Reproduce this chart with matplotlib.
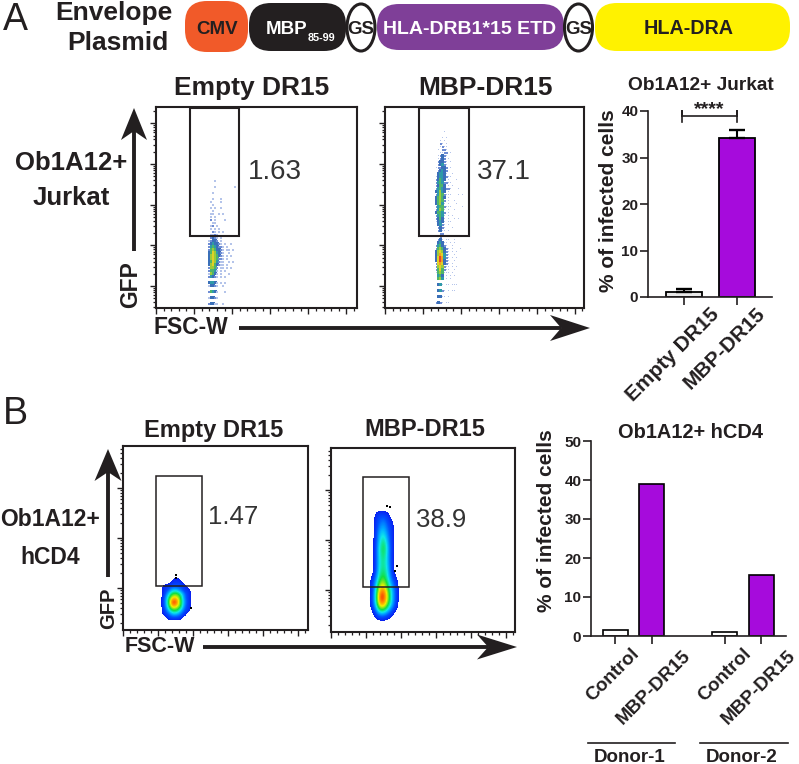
import numpy as np
import matplotlib
matplotlib.use('Agg')
import matplotlib.pyplot as plt
from matplotlib.colors import ListedColormap, LinearSegmentedColormap
from matplotlib.patches import FancyBboxPatch, Ellipse, Polygon, Rectangle
from matplotlib.transforms import ScaledTranslation

plt.rcParams['font.family'] = ['Liberation Sans', 'DejaVu Sans']

W, H = 799, 764
INK = '#231f20'
PURPLE = '#a60bdc'

# --- bar data ---
jurkat_labels = ['Empty DR15', 'MBP-DR15']
jurkat_values = [1.1, 34.2]
jurkat_errors = [0.6, 1.7]
jurkat_ticks = [0, 10, 20, 30, 40]

hcd4_pos = [0, 1, 3, 4]
hcd4_labels = ['Control', 'MBP-DR15', 'Control', 'MBP-DR15']
hcd4_values = [1.5, 38.9, 0.9, 15.7]
hcd4_ticks = [0, 10, 20, 30, 40, 50]

# --- flow gates: x0, x1, y0, y1 (FSC-W in K, GFP in log10) ---
gate_jurkat_empty = [45, 109, 2.23, 5.37]
gate_jurkat_mbp = [45, 110, 2.23, 5.37]
gate_hcd4_empty = [47, 113, 2.04, 4.24]
gate_hcd4_mbp = [46, 111, 2.06, 4.26]

# --- dot plot density, one string per row from the top, digit = density ---
dots_jurkat_empty = [
    "....1..........", "...............", "....1.........1", "...............",
    "...1...........", "...............", "...1...1.......", "..1....1.......",
    "...1...........", "..1.1..1.......", "...1...........", "..11..1.1......",
    "..1.1..........", "..2.1....1.....", "...11..........", "..12.1.........",
    "..1.1.1........", "...21.1.1......", "..1121.........", "..2321.1.......",
    ".12332.1.......", ".2343321.1..1..", ".24543221.1....", ".25653321.11.1.",
    ".35764321..1...", ".36765321.1.1..", ".36765221.1....", ".35764211..1.1.",
    ".36753211.1....", ".26652.11.1.1..", ".25541.1.1.....", ".16531.1...1...",
    ".24321.1.1.....", "...............", ".34431.1.1.....", ".13321..1.......",
    "...............", ".25431...1.....", "...............", ".13321.........",
    "...............", ".23311..1......", "...............",
]
dots_jurkat_mbp = [
    ".....1", "......", "....1.1", "...1.1", "...21.1", "...1211", "..1.221",
    "...1122.1", "..12321", "..1232.1", "..23321.1", "..23421", ".122332.1",
    "..23432", "..34431..1", ".13443211", ".23543.1...1", ".24542211",
    ".23553.1.1", ".24543221...1", ".34643.1", ".24652111...1.1", ".35653.1",
    ".35652.1..1", ".35641.1...1", ".24552111.....1", ".24651.1..1", ".35542.1",
    ".24541.1.1", ".23531.1..1.1", ".13431.11", "..3421.1", "..2321...1",
    "..2311.1", "...22", "...21.1", "..231.11..1", "..34311.1.1", ".245321..1",
    ".2565321.1...1", ".3676321.1.1", ".3687421..1", ".3798421.1.1", ".3798321..1",
    ".2787321.1", ".2676211.1.1", ".2575211..1", ".1565111.1", "..453.1.1.1",
    "..564.1.1", "..............", "..341.11.111", "..............", "..3421.1.11",
    "..............", "..3311.1", "..............", ".2321.11", "..............", "..341",
]

# --- pseudocolor density for hCD4, rows from the top, 0 = no events ---
blob_hcd4_empty = [
    [0, 0, 0, 0, 0, 0, 0, 0, 0],
    [0, 0, 0, 0, 1, 0, 0, 0, 0],
    [0, 0, 0, 1, 1, 1, 0, 0, 0],
    [0, 1, 1, 1.5, 1.5, 1.5, 1, 0, 0],
    [0, 1, 1.5, 3, 3, 2, 1, 1, 0],
    [0, 1, 3, 5, 5.5, 4, 2, 1, 0],
    [0, 1.5, 4, 7, 7, 5, 2, 1, 0],
    [0, 1.5, 4.5, 9, 8.5, 5, 2.5, 1, 0],
    [0, 1.5, 4, 7.5, 7, 5, 2, 1, 0],
    [0, 1, 3, 5, 5, 3.5, 1.5, 1, 0],
    [0, 1, 1.5, 3, 3, 2, 1, 0, 0],
    [0, 0, 1, 1.2, 1.2, 1, 0, 0, 0],
    [0, 0, 0, 0, 0, 0, 0, 0, 0],
]
blob_hcd4_mbp = [
    [0, 0, 0, 0, 0, 0, 0, 0, 0],
    [0, 0, 1, 1.5, 1.5, 1, 0, 0, 0],
    [0, 0, 1, 2, 2.5, 1.5, 1, 0, 0],
    [0, 0, 1.2, 3, 3.2, 2, 1, 0, 0],
    [0, 0, 1.3, 3.5, 4.3, 2.5, 1, 0, 0],
    [0, 0, 1.5, 4, 5, 3, 1, 0, 0],
    [0, 0, 1.5, 3.8, 4.5, 2.8, 1, 0, 0],
    [0, 0, 1.5, 3.8, 4.2, 3, 1, 0, 0],
    [0, 0, 1.6, 4, 4.6, 3.2, 1.2, 0, 0],
    [0, 1, 2.5, 5, 5.5, 3.8, 2, 1, 0],
    [0, 1, 3.5, 7, 7.5, 5, 3, 1.5, 0],
    [0, 1.2, 4, 8.8, 9, 6, 3.2, 1.5, 0],
    [0, 1.2, 3.5, 7.5, 7.5, 5, 3, 1.3, 0],
    [0, 0, 1.5, 3, 3, 2, 1, 0, 0],
    [0, 0, 0, 0, 0, 0, 0, 0, 0],
]
# stray events outside the outer contour
strays_hcd4_empty_x = [76, 76, 97]
strays_hcd4_empty_y = [2.27, 2.21, 1.6]
strays_hcd4_mbp_x = [80, 84.5, 94, 91]
strays_hcd4_mbp_y = [3.68, 3.66, 2.48, 2.38]

dot_cmap = ListedColormap(['#b4c4ea', '#6f8dd4', '#3a6fb8', '#2f9aa8', '#4fb56a',
                           '#9ccb3a', '#e0d226', '#f0a024', '#e8452a'])
jet_cmap = LinearSegmentedColormap.from_list('pseudo', [
    (0.0, '#ffffff'), (0.0549, '#ffffff'), (0.055, '#0a20f0'), (0.17, '#0050ff'), (0.3, '#00b0ff'),
    (0.38, '#10e8e8'), (0.52, '#10e040'), (0.7, '#f0f000'), (0.85, '#ff8000'), (1.0, '#f00000')])

fig = plt.figure(figsize=(W / 100, H / 100), dpi=100)


def axes_px(left, top, right, bottom):
    return fig.add_axes([left / W, 1 - bottom / H, (right - left) / W, (bottom - top) / H])


overlay = fig.add_axes([0, 0, 1, 1], zorder=5)
overlay.set_xlim(0, W)
overlay.set_ylim(H, 0)
overlay.axis('off')


def label(x, y, s, size, weight='bold', color=INK, rotation=0, ha='center'):
    overlay.text(x, y, s, fontsize=size, fontweight=weight, color=color, rotation=rotation,
                 ha=ha, va='center', rotation_mode='anchor')


def stealth_arrow(x0, y0, x1, y1, head_len, head_w, lw):
    d = np.array([x1 - x0, y1 - y0], dtype=float)
    d /= np.hypot(*d)
    n = np.array([-d[1], d[0]])
    tip = np.array([x1, y1], dtype=float)
    base = tip - d * head_len
    notch = tip - d * head_len * 0.72
    overlay.add_patch(Polygon([tip, base + n * head_w / 2, notch, base - n * head_w / 2],
                              closed=True, fc=INK, ec='none'))
    overlay.plot([x0, notch[0]], [y0, notch[1]], color=INK, lw=lw, solid_capstyle='butt')


def flow_axes(box, xlim, ylim, xstep_minor=10):
    ax = axes_px(*box)
    ax.set_xlim(*xlim)
    ax.set_ylim(*ylim)
    ax.set_xticks(np.arange(0, xlim[1], 50))
    ax.set_xticks(np.arange(0, xlim[1], xstep_minor), minor=True)
    decades = np.arange(np.floor(ylim[0]) - 1, np.ceil(ylim[1]))
    major = [d for d in decades if ylim[0] <= d <= ylim[1]]
    minor = [d + np.log10(m) for d in decades for m in range(2, 10) if ylim[0] <= d + np.log10(m) <= ylim[1]]
    ax.set_yticks(major)
    ax.set_yticks(minor, minor=True)
    ax.tick_params(which='major', length=4, width=1, color=INK, labelleft=False, labelbottom=False)
    ax.tick_params(which='minor', length=2.2, width=0.9, color=INK)
    for s in ax.spines.values():
        s.set_linewidth(1.5)
        s.set_color(INK)
    return ax


def add_gate(ax, gate, lw):
    ax.add_patch(Rectangle((gate[0], gate[2]), gate[1] - gate[0], gate[3] - gate[2],
                           fc='none', ec=INK, lw=lw, zorder=4))


def draw_dots(ax, rows, left, top, dx, dy):
    xs, ys, vals = [], [], []
    for i, r in enumerate(rows):
        for j, c in enumerate(r):
            if c != '.':
                xs.append(left + (j + 0.5) * dx)
                ys.append(top - (i + 0.5) * dy)
                vals.append(int(c))
    vals = np.array(vals)
    # sparse events are single small dots, the dense core closes up
    sizes = np.select([vals == 1, vals == 2], [1.3, 2.4], default=5.0)
    ax.scatter(xs, ys, c=vals, s=sizes, marker='s', linewidths=0, cmap=dot_cmap,
               vmin=0.5, vmax=9.5, zorder=2)


def draw_blob(ax, blob, left, right, bottom, top):
    ax.imshow(np.array(blob), extent=[left, right, bottom, top], cmap=jet_cmap, vmin=0, vmax=9.2,
              aspect='auto', interpolation='bicubic', zorder=2)


def bar_axes(box, xlim, ylim, yticks, size):
    ax = axes_px(*box)
    ax.set_xlim(*xlim)
    ax.set_ylim(*ylim)
    ax.set_yticks(yticks)
    for s in ['top', 'right']:
        ax.spines[s].set_visible(False)
    for s in ['left', 'bottom']:
        ax.spines[s].set_linewidth(1.2)
        ax.spines[s].set_color(INK)
    ax.tick_params(length=5.5, width=1.2, color=INK)
    ax.tick_params(axis='y', labelsize=size, labelcolor=INK, pad=1.5)
    for t in ax.get_yticklabels():
        t.set_fontweight('bold')
    return ax


def set_rotated_labels(ax, ticks, labels, size, shifts):
    ax.set_xticks(ticks)
    ax.set_xticklabels(labels, rotation=45, ha='right', va='top', rotation_mode='anchor',
                       fontsize=size, fontweight='bold', color=INK)
    ax.tick_params(axis='x', pad=3)
    # labels sit to the right of their ticks in the original
    for t, (dx, dy) in zip(ax.get_xticklabels(), shifts):
        t.set_transform(t.get_transform() + ScaledTranslation(dx / 100, dy / 100, fig.dpi_scale_trans))


# --- plasmid map ---
label(114, 13, 'Envelope', 19)
label(118, 43, 'Plasmid', 19)
label(15, 20, 'A', 27, weight='normal')
label(15, 414, 'B', 27, weight='normal')


def pill(x0, y0, x1, y1, color, rad):
    overlay.add_patch(FancyBboxPatch((x0 + rad, y0 + rad), x1 - x0 - 2 * rad, y1 - y0 - 2 * rad,
                                     boxstyle=f'round,pad={rad}', fc=color, ec='none'))


pill(185, 1, 248, 52, '#f15a29', 22)
pill(249, 3, 346, 51, INK, 22)
pill(377, 4, 564, 50, '#7f3f98', 22)
pill(595, 3, 790, 51, '#fff200', 22)
overlay.add_patch(Ellipse((361, 27.5), 28, 47, fc='white', ec=INK, lw=2.2))
overlay.add_patch(Ellipse((578.5, 27.5), 28, 47, fc='white', ec=INK, lw=2.2))
label(217, 29, 'CMV', 13.5)
label(266, 29, 'MBP', 13.5, color='white', ha='left')
label(308, 38, '85-99', 7.8, color='white', ha='left')
label(361, 29, 'GS', 13.5)
label(470, 29, 'HLA-DRB1*15 ETD', 14, color='white')
label(578.5, 29, 'GS', 13.5)
label(689, 29, 'HLA-DRA', 14.2)

# --- panel A flow ---
ylim_a = (0.46, 5.40)
ax = flow_axes((156, 107, 357, 308), (0, 264), ylim_a)
draw_dots(ax, dots_jurkat_empty, 66, 3.62, 2.63, 0.0737)
add_gate(ax, gate_jurkat_empty, 1.5)
ax = flow_axes((385, 107, 584, 308), (0, 262), ylim_a)
draw_dots(ax, dots_jurkat_mbp, 64, 4.83, 2.63, 0.0737)
add_gate(ax, gate_jurkat_mbp, 1.5)

label(252, 88, 'Empty DR15', 19)
label(486, 88, 'MBP-DR15', 19)
label(275, 172, '1.63', 20, weight='normal', color='#333333')
label(504, 172, '37.1', 20, weight='normal', color='#333333')
label(71, 163, 'Ob1A12+', 18.5)
label(71, 198, 'Jurkat', 18.5)
label(131, 285, 'GFP', 16.5, rotation=90)
label(191, 328, 'FSC-W', 16.5)
stealth_arrow(134, 251, 134, 108, 32, 26, 2.8)
stealth_arrow(239, 328, 590, 328, 40, 26, 2.8)

# --- panel A bars ---
ax = bar_axes((648, 111, 772, 297), (-0.68, 1.66), (0, 40), jurkat_ticks, 11)
ax.bar([0, 1], jurkat_values, width=0.68, color=['#e8e8e8', PURPLE], edgecolor='black', linewidth=1.3)
ax.errorbar([0, 1], jurkat_values, yerr=[[0, 0], jurkat_errors], fmt='none', ecolor='black',
            elinewidth=1.5, capsize=6, capthick=1.7)
set_rotated_labels(ax, [0, 1], jurkat_labels, 15, [(26, 4), (18, 5)])
ax.plot([-0.04, -0.04, -0.04, 1, 1, 1], [37.7, 40, 38.9, 38.9, 40, 37.7], color=INK, lw=1.2, clip_on=False)
ax.text(0.48, 40.2, '****', ha='center', va='center', fontsize=14, fontweight='bold', color=INK)
label(701, 85, 'Ob1A12+ Jurkat', 13.8)
label(608, 201, '% of infected cells', 15, rotation=90)

# --- panel B flow ---
ax = flow_axes((123, 446, 308, 630), (0, 264), (1.16, 4.84))
draw_blob(ax, blob_hcd4_empty, 50, 101.4, 1.28, 2.32)
ax.scatter(strays_hcd4_empty_x, strays_hcd4_empty_y, s=3, marker='s', linewidths=0, color='black', zorder=3)
add_gate(ax, gate_hcd4_empty, 1.1)
ax.set_xlim(0, 264)
ax.set_ylim(1.16, 4.84)

ax = flow_axes((331, 448, 515, 632), (0, 263), (1.16, 4.84))
draw_blob(ax, blob_hcd4_mbp, 50, 101.4, 1.3, 3.7)
ax.scatter(strays_hcd4_mbp_x, strays_hcd4_mbp_y, s=3, marker='s', linewidths=0, color='black', zorder=3)
add_gate(ax, gate_hcd4_mbp, 1.1)
ax.set_xlim(0, 263)
ax.set_ylim(1.16, 4.84)

label(214, 430, 'Empty DR15', 17)
label(425, 430, 'MBP-DR15', 17)
label(233, 517, '1.47', 18.5, weight='normal', color='#333333')
label(441, 520, '38.9', 18.5, weight='normal', color='#333333')
label(50, 520, 'Ob1A12+', 16.5)
label(50, 558, 'hCD4', 16.5)
label(109, 608, 'GFP', 14.5, rotation=90)
label(160, 647, 'FSC-W', 15.5)
stealth_arrow(108, 577, 108, 449, 32, 27, 2.8)
stealth_arrow(203, 647, 517, 647, 40, 25, 2.8)

# --- panel B bars ---
ax = bar_axes((591, 441, 786, 636), (-0.66, 4.68), (0, 50), hcd4_ticks, 11)
ax.bar(hcd4_pos, hcd4_values, width=0.68, color=['white', PURPLE, 'white', PURPLE],
       edgecolor='black', linewidth=1.2)
set_rotated_labels(ax, hcd4_pos, hcd4_labels, 13.7, [(16, 3), (30, 0), (18, 3), (26, 0)])
label(691, 433, 'Ob1A12+ hCD4', 14.4)
label(547, 521, '% of infected cells', 15, rotation=90)
overlay.plot([588, 675], [743, 743], color=INK, lw=1.2)
overlay.plot([700, 788], [743, 743], color=INK, lw=1.2)
label(630, 757, 'Donor-1', 13.5)
label(742, 757, 'Donor-2', 13.5)

fig.savefig('out.png', dpi=100)
